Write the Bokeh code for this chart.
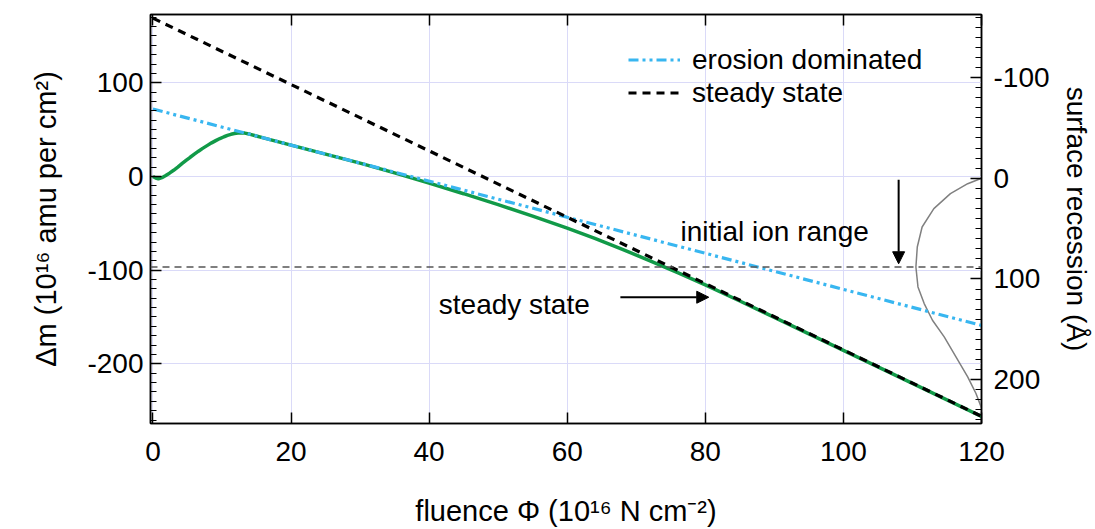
from bokeh.plotting import figure
from bokeh.models import (Range1d, LinearAxis, Span, Arrow, NormalHead, Label,
                          Legend, LegendItem, FixedTicker, CustomJSTickFormatter)
from bokeh.embed import file_html
from bokeh.resources import INLINE

# ---------------- data ----------------
fluence_green = [0, 0.4, 0.8, 1.3, 1.8, 2.4, 3.0, 3.6, 4.2, 4.8, 5.4, 6.0, 6.6, 7.2, 7.9,
                 8.5, 9.1, 9.7, 10.3, 10.8, 11.3, 11.8, 12.3, 12.8, 13.3, 14.1, 16.0, 20.0,
                 25.0, 30.0, 35.0, 40.0, 45.0, 50.0, 55.0, 60.0, 64.0, 68.0, 72.0, 76.0,
                 80.0, 85.0, 90.0, 100.0, 110.0, 120.0]
dm_green = [0, -1.6, -2.5, -1.3, 0.8, 3.5, 6.6, 10.0, 13.6, 17.1, 20.5, 23.8, 27.0, 30.0,
            33.2, 35.9, 38.3, 40.5, 42.4, 43.8, 45.0, 45.8, 46.3, 46.5, 46.3, 45.0, 41.2,
            33.5, 23.9, 14.2, 3.9, -7.1, -18.4, -30.1, -42.3, -55.2, -66.2, -77.8, -90.0,
            -102.7, -115.8, -132.9, -150.4, -185.6, -220.9, -256.2]
erosion_x = [0, 120]
erosion_y = [72, -159]
steady_x = [0, 120]
steady_y = [169, -256]
profile_x = [120, 118.0, 115.5, 113.1, 111.4, 110.7, 110.5, 110.8, 111.7, 112.9, 114.6,
             116.3, 118.0, 119.2, 120]
profile_depth = [0, 5.4, 15.3, 30.2, 48.4, 68.3, 88.1, 107.9, 124.4, 141, 157.5, 177.4,
                 197.2, 213.7, 228]
ion_range_depth = 88
x_ticks = [0, 20, 40, 60, 80, 100, 120]
y_ticks = [-200, -100, 0, 100]
y_minor = list(range(-260, 171, 10))
rec_ticks = [-100, 0, 100, 200]
rec_minor = list(range(-160, 241, 10))

FONT = "Liberation Sans"
BLUE = "#38b6f0"
GREEN = "#119a48"
GRID = "#dadaf8"

p = figure(width=1095, height=529, output_backend="svg", toolbar_location=None, tools="",
           x_range=Range1d(-0.35, 120), y_range=Range1d(-263.7, 172.9),
           min_border_left=150, min_border_right=114, min_border_top=14, min_border_bottom=106)
p.extra_y_ranges = {"rec": Range1d(243.5, -162.6)}
p.background_fill_color = "white"
p.border_fill_color = "white"
p.outline_line_color = "black"
p.outline_line_width = 1.5

# grids
p.xgrid.ticker = FixedTicker(ticks=x_ticks)
p.ygrid.ticker = FixedTicker(ticks=y_ticks)
for g in (p.xgrid[0], p.ygrid[0]):
    g.grid_line_color = GRID
    g.grid_line_width = 1

def style_axis(ax, major_in=11, minor_in=6):
    ax.axis_line_color = "black"
    ax.axis_line_width = 1.5
    ax.major_tick_line_color = "black"
    ax.major_tick_line_width = 1.5
    ax.minor_tick_line_color = "black"
    ax.minor_tick_line_width = 1.2
    ax.major_tick_in = major_in
    ax.major_tick_out = 0
    ax.minor_tick_in = minor_in
    ax.minor_tick_out = 0
    ax.major_label_text_font = FONT
    ax.major_label_text_font_size = "28px"
    ax.major_label_text_color = "black"
    ax.axis_label_text_font = FONT
    ax.axis_label_text_font_style = "normal"
    ax.axis_label_text_color = "black"

xa = p.xaxis[0]
style_axis(xa)
xa.ticker = FixedTicker(ticks=x_ticks)
xa.minor_tick_line_color = None
xa.major_label_standoff = 18
xa.major_label_overrides = {v: str(v) for v in x_ticks}
xa.axis_label = "fluence Φ (10¹⁶ N cm⁻²)"
xa.axis_label_text_font_size = "29px"
xa.axis_label_standoff = 31

ya = p.yaxis[0]
style_axis(ya)
ya.ticker = FixedTicker(ticks=y_ticks, minor_ticks=y_minor)
ya.major_label_standoff = 7
ya.major_label_overrides = {v: str(v) for v in y_ticks}
ya.axis_label = "Δm (10¹⁶ amu per cm²)"
ya.axis_label_text_font_size = "29px"
ya.axis_label_standoff = 22

top = LinearAxis(ticker=FixedTicker(ticks=x_ticks),
                 formatter=CustomJSTickFormatter(code="return ''"))
style_axis(top)
top.minor_tick_line_color = None
top.major_label_text_font_size = "0px"
top.major_label_standoff = 0
p.add_layout(top, "above")

ra = LinearAxis(y_range_name="rec", ticker=FixedTicker(ticks=rec_ticks, minor_ticks=rec_minor))
style_axis(ra)
ra.major_label_standoff = 12
ra.major_label_overrides = {v: str(v) for v in rec_ticks}
ra.axis_label = "surface recession (Å)"
ra.axis_label_text_font_size = "28px"
ra.axis_label_standoff = 8
p.add_layout(ra, "right")

# ion range line
p.add_layout(Span(location=ion_range_depth, dimension="width", y_range_name="rec",
                  line_color="#555555", line_dash="7 5", line_width=1.5))

# curves
p.line(profile_x, profile_depth, y_range_name="rec", line_color="#808080", line_width=1.5)
p.line(fluence_green, dm_green, line_color=GREEN, line_width=3.5)
r_er = p.line(erosion_x, erosion_y, line_color=BLUE, line_width=3.2, line_dash="10 4 3 4 3 4")
r_ss = p.line(steady_x, steady_y, line_color="black", line_width=3.2, line_dash="8 6")

legend = Legend(items=[LegendItem(label="erosion dominated", renderers=[r_er]),
                       LegendItem(label="steady state", renderers=[r_ss])],
                location=(478, 314), orientation="vertical",
                glyph_width=52, glyph_height=33, label_height=33, label_standoff=12,
                spacing=0, padding=0, margin=0,
                border_line_color=None, background_fill_alpha=0,
                label_text_font=FONT, label_text_font_size="28px",
                label_text_color="black")
p.add_layout(legend)

# arrows and annotations
p.add_layout(Arrow(end=NormalHead(size=12, fill_color="black", line_color="black"),
                   x_start=108.0, y_start=-3.5, x_end=108.0, y_end=-93.2,
                   line_color="black", line_width=2))
p.add_layout(Arrow(end=NormalHead(size=12, fill_color="black", line_color="black"),
                   x_start=67.7, y_start=-128.9, x_end=80.5, y_end=-128.9,
                   line_color="black", line_width=2))
p.add_layout(Label(x=76.4, y=-58.7, text="initial ion range", text_font=FONT,
                   text_font_size="28px", text_baseline="alphabetic", text_align="left",
                   text_color="black"))
p.add_layout(Label(x=41.4, y=-137.0, text="steady state", text_font=FONT,
                   text_font_size="28px", text_baseline="alphabetic", text_align="left",
                   text_color="black"))

open("out.html", "w").write(file_html(p, INLINE))
